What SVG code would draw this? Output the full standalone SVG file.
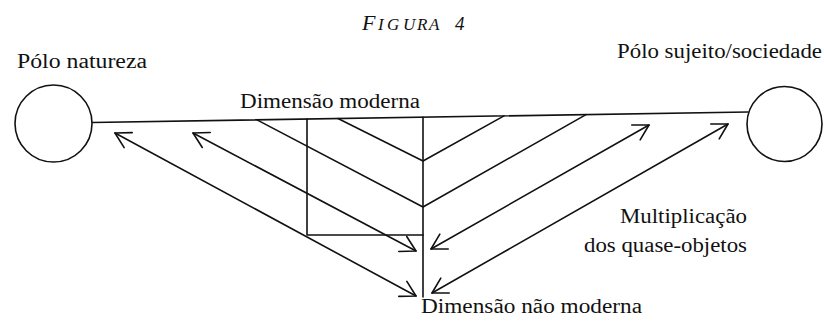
<svg xmlns="http://www.w3.org/2000/svg" width="824" height="329" viewBox="0 0 824 329">
<style>
text{font-family:'Liberation Serif','DejaVu Serif',serif;font-size:20px;fill:#111}
.ln{fill:none;stroke:#111;stroke-width:1.6;stroke-linecap:round;stroke-linejoin:round}
.pole{fill:#fff;stroke:#111;stroke-width:1.6}
</style>
<defs>
<marker id="ah" markerUnits="userSpaceOnUse" viewBox="-16 -10 18 20" refX="0" refY="0" markerWidth="18" markerHeight="20" orient="auto-start-reverse">
<path d="M-15,-8.5 L0,0 L-15,8.5" fill="none" stroke="#111" stroke-width="1.6" stroke-linecap="round" stroke-linejoin="round"/>
</marker>
</defs>
<rect width="824" height="329" fill="#fff"/>
<g id="title">
<text y="30" font-family="Liberation Serif, serif" font-style="italic"><tspan x="362" font-size="22">F</tspan><tspan x="378" font-size="17">I</tspan><tspan x="387" font-size="17">G</tspan><tspan x="403" font-size="17">U</tspan><tspan x="417" font-size="17">R</tspan><tspan x="429" font-size="17">A</tspan><tspan x="455" font-size="19">4</tspan></text>
</g>
<g id="connectors">
<line class="ln" x1="92" y1="122.5" x2="748" y2="112"/>
<polyline class="ln" points="307,119 307,235 423,235"/>
<line class="ln" x1="423" y1="117.2" x2="423" y2="297"/>
<polyline class="ln" points="338,118.5 423,161 504,115.9"/>
<polyline class="ln" points="257,119.9 423,207 586,114.6"/>
<line class="ln" x1="115" y1="133" x2="416" y2="296" marker-start="url(#ah)" marker-end="url(#ah)"/>
<line class="ln" x1="193" y1="133" x2="416" y2="251" marker-start="url(#ah)" marker-end="url(#ah)"/>
<line class="ln" x1="649" y1="125" x2="431" y2="249" marker-start="url(#ah)" marker-end="url(#ah)"/>
<line class="ln" x1="728" y1="124" x2="432" y2="293" marker-start="url(#ah)" marker-end="url(#ah)"/>
</g>
<g id="polo-natureza">
<circle class="pole" cx="53.5" cy="123.5" r="38.5"/>
<text x="17" y="68" font-family="Liberation Serif, serif" textLength="130" lengthAdjust="spacingAndGlyphs">Pólo natureza</text>
</g>
<g id="polo-sujeito">
<circle class="pole" cx="784.5" cy="124" r="37.5"/>
<text x="617" y="58" font-family="Liberation Serif, serif" textLength="205" lengthAdjust="spacingAndGlyphs">Pólo sujeito/sociedade</text>
</g>
<g id="dimensao-moderna">
<text x="240" y="108" font-family="Liberation Serif, serif" textLength="180" lengthAdjust="spacingAndGlyphs">Dimensão moderna</text>
</g>
<g id="multiplicacao">
<text x="620" y="223" font-family="Liberation Serif, serif" textLength="127" lengthAdjust="spacingAndGlyphs">Multiplicação</text>
<text x="584" y="252" font-family="Liberation Serif, serif" textLength="163" lengthAdjust="spacingAndGlyphs">dos quase-objetos</text>
</g>
<g id="dimensao-nao-moderna">
<text x="421" y="313" font-family="Liberation Serif, serif" textLength="221" lengthAdjust="spacingAndGlyphs">Dimensão não moderna</text>
</g>
</svg>
